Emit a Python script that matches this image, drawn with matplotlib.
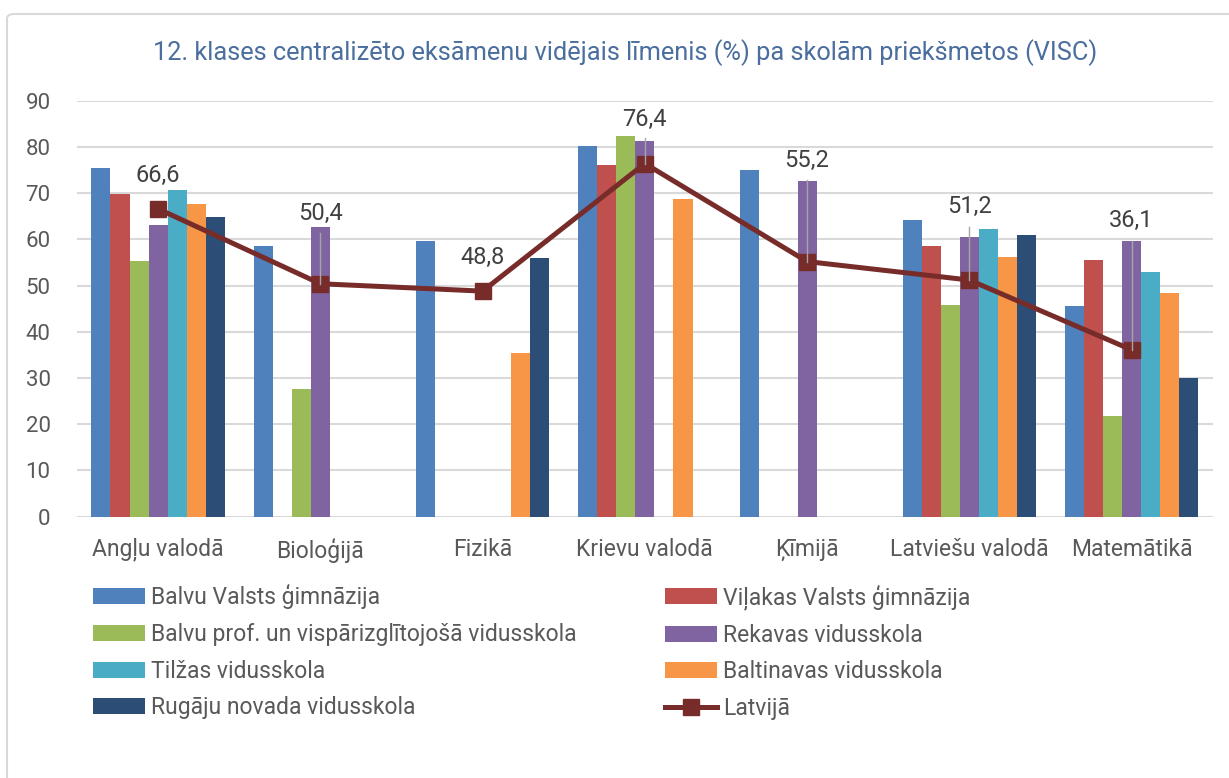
import numpy as np
import matplotlib
matplotlib.use("Agg")
import matplotlib.pyplot as plt
from matplotlib.patches import Patch, FancyBboxPatch
from matplotlib.lines import Line2D

plt.rcParams['font.family'] = ['Roboto', 'DejaVu Sans']

categories = ["Angļu valodā", "Bioloģijā", "Fizikā", "Krievu valodā", "Ķīmijā",
              "Latviešu valodā", "Matemātikā"]
schools = ["Balvu Valsts ģimnāzija", "Viļakas Valsts ģimnāzija",
           "Balvu prof. un vispārizglītojošā vidusskola", "Rekavas vidusskola",
           "Tilžas vidusskola", "Baltinavas vidusskola", "Rugāju novada vidusskola"]
nan = np.nan
balvu_vg = [75.4, 58.6, 59.6, 80.1, 74.9, 64.1, 45.6]
vilakas_vg = [69.8, nan, nan, 76.0, nan, 58.6, 55.5]
balvu_prof = [55.4, 27.6, nan, 82.4, nan, 45.7, 21.8]
rekavas = [63.1, 62.6, nan, 81.3, 72.6, 60.6, 59.7]
tilzas = [70.7, nan, nan, nan, nan, 62.2, 52.9]
baltinavas = [67.7, nan, 35.4, 68.7, nan, 56.1, 48.5]
rugaju = [64.8, nan, 55.9, nan, nan, 61.0, 30.0]
latvija = [66.6, 50.4, 48.8, 76.4, 55.2, 51.2, 36.1]
latvija_label = "Latvijā"
title = "12. klases centralizēto eksāmenu vidējais līmenis (%) pa skolām priekšmetos (VISC)"

series = [balvu_vg, vilakas_vg, balvu_prof, rekavas, tilzas, baltinavas, rugaju]
colors = ["#4F81BD", "#C0504D", "#9BBB59", "#8064A2", "#4BACC6", "#F79646", "#2C4D75"]
line_color = "#772C2A"

# label layout (y centre of text, and top of leader line; None = no leader)
label_y = [73.9, 65.6, 56.0, 86.0, 77.0, 67.1, 64.0]
leader_top = [None, 61.4, None, 82.0, 72.8, 62.7, 59.7]

W, H = 1229, 778
fig = plt.figure(figsize=(W / 100, H / 100), dpi=100)
fig.patch.set_facecolor("white")

# chart border (only top/left visible in reference)
fig.patches.append(FancyBboxPatch((7 / W, -0.05), 1.1, (778 - 14) / H + 0.05,
                                  boxstyle="round,pad=0,rounding_size=0.006",
                                  transform=fig.transFigure, fill=False,
                                  edgecolor="#D9D9D9", linewidth=1.5))

ax_l, ax_r, ax_t, ax_b = 77, 1212.7, 100.7, 516.7
ax = fig.add_axes([ax_l / W, (H - ax_b) / H, (ax_r - ax_l) / W, (ax_b - ax_t) / H])

x = np.arange(len(categories))
bw = 0.1175
for i, (vals, c) in enumerate(zip(series, colors)):
    v = np.array(vals, dtype=float)
    m = ~np.isnan(v)
    ax.bar(x[m] + (i - 3) * bw, v[m], width=bw, color=c, zorder=2, linewidth=0)

ax.plot(x, latvija, color=line_color, linewidth=3.6, marker="s", markersize=11,
        zorder=4, solid_joinstyle="round")

for xi, v, ly, lt in zip(x, latvija, label_y, leader_top):
    if lt is not None:
        ax.plot([xi, xi], [lt, v], color="#A6A6A6", linewidth=1.0, zorder=5)
    ax.text(xi, ly, f"{v:.1f}".replace(".", ","), ha="center", va="center",
            fontsize=17, color="#404040", zorder=6)

ax.set_xlim(-0.5, len(categories) - 0.5)
ax.set_ylim(0, 90)
ax.set_yticks(np.arange(0, 91, 10))
ax.set_xticks(x)
ax.set_xticklabels(categories)
ax.tick_params(axis="both", length=0, labelcolor="#595959")
ax.tick_params(axis="y", pad=19, labelsize=16)
ax.tick_params(axis="x", pad=15, labelsize=16.5)
ax.grid(axis="y", color="#D9D9D9", linewidth=1.5, zorder=0)
ax.set_axisbelow(True)
for s in ax.spines.values():
    s.set_visible(False)
ax.set_facecolor("none")

fig.text(625 / W, 1 - 53 / H, title, ha="center", va="center", fontsize=18.3,
         color="#4A6E9E")

handles = [Patch(facecolor=c, edgecolor="none") for c in colors]
line_h = Line2D([], [], color=line_color, linewidth=3.6, marker="s", markersize=11)
left_idx = [0, 2, 4, 6]
right_idx = [1, 3, 5]
leg_kw = dict(frameon=False, fontsize=16.5, labelcolor="#595959", handlelength=2.25,
              handleheight=0.7, handletextpad=0.3, labelspacing=0.6, borderpad=0,
              borderaxespad=0)
fig.legend([handles[i] for i in left_idx], [schools[i] for i in left_idx],
           loc="upper left", bbox_to_anchor=(93 / W, 1 - 584 / H), **leg_kw)
fig.legend([handles[i] for i in right_idx] + [line_h],
           [schools[i] for i in right_idx] + [latvija_label],
           loc="upper left", bbox_to_anchor=(665 / W, 1 - 584 / H), **leg_kw)

fig.savefig("out.png", dpi=100, facecolor="white")
